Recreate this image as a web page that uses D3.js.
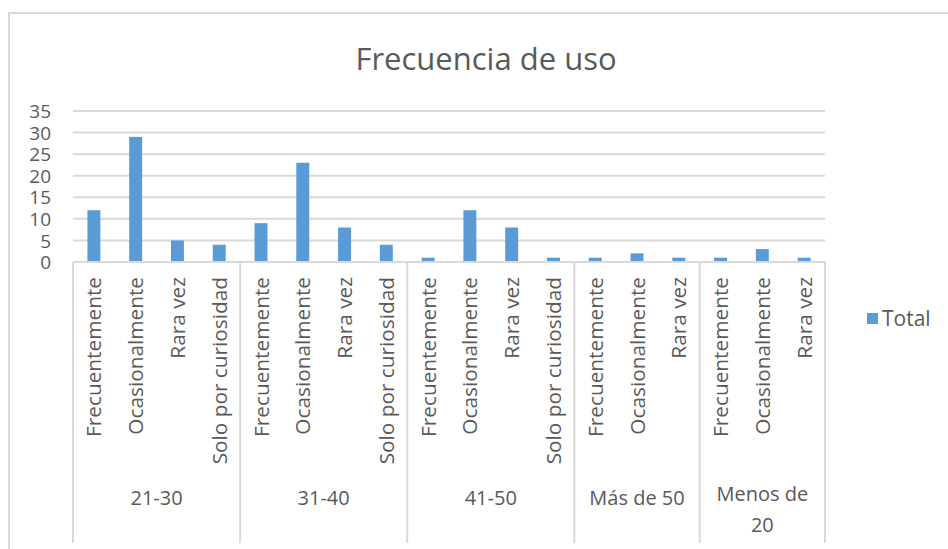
<!DOCTYPE html>
<html>
<head>
<meta charset="utf-8">
<script src="https://cdn.jsdelivr.net/npm/d3@7"></script>
<style>
  html, body { margin: 0; padding: 0; background: #fff; }
  svg text { font-family: "Open Sans", "Noto Sans", sans-serif; fill: #595959; }
</style>
</head>
<body>
<svg id="chart" width="948" height="549"></svg>
<script>
// ---- Data ----
const title = "Frecuencia de uso";
const groups = ["21-30", "31-40", "41-50", "Más de 50", "Menos de 20"];
const groupCategories = [
  ["Frecuentemente", "Ocasionalmente", "Rara vez", "Solo por curiosidad"],
  ["Frecuentemente", "Ocasionalmente", "Rara vez", "Solo por curiosidad"],
  ["Frecuentemente", "Ocasionalmente", "Rara vez", "Solo por curiosidad"],
  ["Frecuentemente", "Ocasionalmente", "Rara vez"],
  ["Frecuentemente", "Ocasionalmente", "Rara vez"]
];
const groupValues = [
  [12, 29, 5, 4],
  [9, 23, 8, 4],
  [1, 12, 8, 1],
  [1, 2, 1],
  [1, 3, 1]
];
const yTicks = [0, 5, 10, 15, 20, 25, 30, 35];
const seriesName = "Total";

// ---- Build flat table ----
const rows = [];
groups.forEach((g, gi) => {
  groupCategories[gi].forEach((c, ci) => {
    rows.push({ key: gi + "|" + ci, group: g, gi: gi, cat: c, value: groupValues[gi][ci] });
  });
});

const svg = d3.select("#chart");
const margin = { left: 73, right: 825, top: 111, bottom: 262 };
const barColor = "#5B9BD5";
const gridColor = "#D9D9D9";

// chart border
svg.append("path")
  .attr("d", `M9,549 L9,13 L948,13`)
  .attr("fill", "none").attr("stroke", gridColor).attr("stroke-width", 2);

// title
svg.append("text")
  .attr("x", 486).attr("y", 70)
  .attr("text-anchor", "middle")
  .style("font-size", "31px")
  .text(title);

const x = d3.scaleBand()
  .domain(rows.map(d => d.key))
  .range([margin.left, margin.right])
  .paddingInner(0.69).paddingOuter(0.345);

const y = d3.scaleLinear().domain([0, 35]).range([margin.bottom, margin.top]);

// gridlines
svg.append("g").selectAll("line")
  .data(yTicks.filter(t => t > 0))
  .join("line")
  .attr("x1", margin.left).attr("x2", margin.right)
  .attr("y1", d => y(d)).attr("y2", d => y(d))
  .attr("stroke", gridColor).attr("stroke-width", 2);

// y axis labels
const yAxis = d3.axisLeft(y).tickValues(yTicks).tickSize(0).tickPadding(0);
const yg = svg.append("g").attr("transform", `translate(51,0)`).call(yAxis);
yg.select(".domain").remove();
yg.selectAll("text").style("font-size", "19px").style("font-family", "'Open Sans', sans-serif").attr("fill", "#595959").attr("dy", "0.35em");

// bars
svg.append("g").selectAll("rect")
  .data(rows)
  .join("rect")
  .attr("x", d => x(d.key))
  .attr("width", x.bandwidth())
  .attr("y", d => y(d.value))
  .attr("height", d => y(0) - y(d.value))
  .attr("fill", barColor);

// x axis baseline
svg.append("line")
  .attr("x1", margin.left).attr("x2", margin.right)
  .attr("y1", y(0)).attr("y2", y(0))
  .attr("stroke", gridColor).attr("stroke-width", 2);

// group boundaries
const boundaries = [margin.left];
let acc = 0;
groupCategories.forEach(cs => { acc += cs.length; boundaries.push(margin.left + acc * (margin.right - margin.left) / rows.length); });
svg.append("g").selectAll("line")
  .data(boundaries)
  .join("line")
  .attr("x1", d => d).attr("x2", d => d)
  .attr("y1", y(0)).attr("y2", 543)
  .attr("stroke", gridColor).attr("stroke-width", 2);

// category labels (rotated)
svg.append("g").selectAll("text")
  .data(rows)
  .join("text")
  .attr("transform", d => `translate(${x(d.key) + x.bandwidth() / 2},277) rotate(-90)`)
  .attr("text-anchor", "end")
  .attr("dy", "0.36em")
  .style("font-size", "20.8px")
  .text(d => d.cat);

// group labels
const groupLines = { "Menos de 20": ["Menos de", "20"] };
groups.forEach((g, gi) => {
  const cx = (boundaries[gi] + boundaries[gi + 1]) / 2;
  const lines = groupLines[g] || [g];
  const t = svg.append("text").attr("text-anchor", "middle").style("font-size", "20px");
  if (lines.length === 1) {
    t.attr("x", cx).attr("y", 498).attr("dy", "0.35em").text(g);
  } else {
    lines.forEach((l, li) => {
      t.append("tspan").attr("x", cx).attr("y", 494 + li * 31).attr("dy", "0.35em").text(l);
    });
  }
});

// legend
const lg = svg.append("g").attr("transform", "translate(867,313)");
lg.append("rect").attr("width", 11).attr("height", 11).attr("fill", barColor);
lg.append("text").attr("x", 15).attr("y", 6).attr("dy", "0.35em").style("font-size", "21px").text(seriesName);
</script>
</body>
</html>
